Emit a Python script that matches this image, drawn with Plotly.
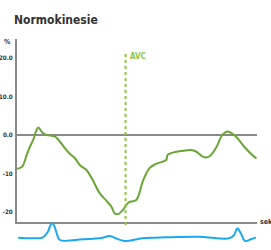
import plotly.graph_objects as go

# ---- data ----
title_text = "Normokinesie"
y_unit = "%"
x_unit = "sek"
avc_label = "AVC"
avc_t = 436  # ms

strain_t = [0, 20, 39, 52, 65, 76, 85, 104, 120, 152, 172, 192, 212, 232, 252, 279, 304, 332,
            359, 379, 392, 405, 425, 445, 452, 479, 505, 532, 559, 599, 605, 625, 659, 699,
            719, 752, 772, 799, 825, 845, 879, 912, 945, 962]
strain_v = [-8.8, -8.3, -5.2, -3.0, -1.3, 0.9, 1.9, 0.5, 0.0, -0.4, -1.7, -3.4, -4.9, -6.0,
            -7.8, -9.1, -11.7, -15.1, -17.1, -18.6, -20.3, -20.6, -19.5, -17.7, -17.4, -16.9,
            -12.1, -8.6, -7.5, -6.5, -5.2, -4.6, -4.2, -3.9, -4.3, -5.8, -5.6, -3.4, 0.0, 0.9,
            -0.4, -3.0, -5.2, -6.1]

ecg_t = [5, 64, 104, 124, 139, 148, 159, 172, 264, 344, 372, 392, 432, 504, 599, 732, 852,
         872, 885, 899, 916, 939, 959]
ecg_v = [0.33, 0.27, 0.37, 0.93, 1.75, 1.60, 0.80, 0.10, 0.17, 0.33, 0.50, 0.33, 0.00, 0.27,
         0.37, 0.43, 0.27, 0.60, 1.27, 0.77, 0.00, 0.17, 0.37]

y_ticks = [20, 10, 0, -10, -20]
y_ticktext = ["20.0", "10.0", "0.0", "-10", "-20"]

# ---- style ----
FONT = "Liberation Sans Narrow, DejaVu Sans Condensed, Roboto, sans-serif"
GREEN = "#6aa536"
LIGHT_GREEN = "#8cc63f"
BLUE = "#1aa9ee"
AXIS = "#8a8a8a"
W, H = 271, 250
mt, mb, ml, mr = 39, 0, 17, 14
ph = H - mt - mb
ecg_frac = 28 / ph

fig = go.Figure()
fig.add_trace(go.Scatter(x=strain_t, y=strain_v, mode="lines", line=dict(color=GREEN, width=2, shape="spline"),
                         xaxis="x", yaxis="y", hoverinfo="skip"))
fig.add_trace(go.Scatter(x=ecg_t, y=ecg_v, mode="lines", line=dict(color=BLUE, width=2, shape="spline"),
                         xaxis="x", yaxis="y2", hoverinfo="skip"))

fig.add_shape(type="line", x0=avc_t, x1=avc_t, xref="x", yref="paper", y0=(H - 225 - mb) / ph,
              y1=(H - 52 - mb) / ph, line=dict(color=LIGHT_GREEN, width=2, dash="dot"))

fig.add_annotation(x=avc_t, xref="x", xshift=2, y=(H - 56 - mb) / ph, yref="paper", text=f"<b>{avc_label}</b>",
                   showarrow=False, xanchor="left", yanchor="middle",
                   font=dict(family=FONT, size=8, color=LIGHT_GREEN))
fig.add_annotation(x=0, xref="paper", xshift=-4, y=1, yref="paper", yshift=-3, text=f"<b>{y_unit}</b>",
                   showarrow=False, xanchor="right", yanchor="middle",
                   font=dict(family=FONT, size=7, color="#333333"))
fig.add_annotation(x=1, xref="paper", xshift=1, y=-22.6, yref="y", text=f"<b>{x_unit}</b>",
                   showarrow=False, xanchor="left", yanchor="middle",
                   font=dict(family=FONT, size=7, color="#333333"))

fig.update_layout(
    width=W, height=H,
    margin=dict(l=ml, r=mr, t=mt, b=mb, autoexpand=False),
    paper_bgcolor="white", plot_bgcolor="white",
    showlegend=False,
    title=dict(text=f"<b>{title_text}</b>", x=14 / W, xanchor="left", xref="container",
               y=1 - 20 / H, yanchor="middle", yref="container",
               font=dict(family=FONT, size=12, color="#333333")),
    xaxis=dict(range=[0, 964], anchor="y", showline=True, linecolor=AXIS, linewidth=2,
               showgrid=False, zeroline=False, showticklabels=False, ticks="", automargin=False),
    yaxis=dict(domain=[ecg_frac, 1], range=[-22.6, 24.9], showline=True, linecolor=AXIS, linewidth=2,
               showgrid=False, zeroline=True, zerolinecolor=AXIS, zerolinewidth=2,
               tickvals=y_ticks, ticktext=[f"<b>{t}</b>" for t in y_ticktext], ticks="",
               ticklabelstandoff=1, automargin=False,
               tickfont=dict(family=FONT, size=6.2, color="#333333")),
    yaxis2=dict(domain=[0, ecg_frac], range=[-0.9, 1.9], anchor="x", visible=False),
)

fig.write_html("out.html", config={"displayModeBar": False},
               post_script="document.body.style.margin='0';document.body.style.padding='0';")
